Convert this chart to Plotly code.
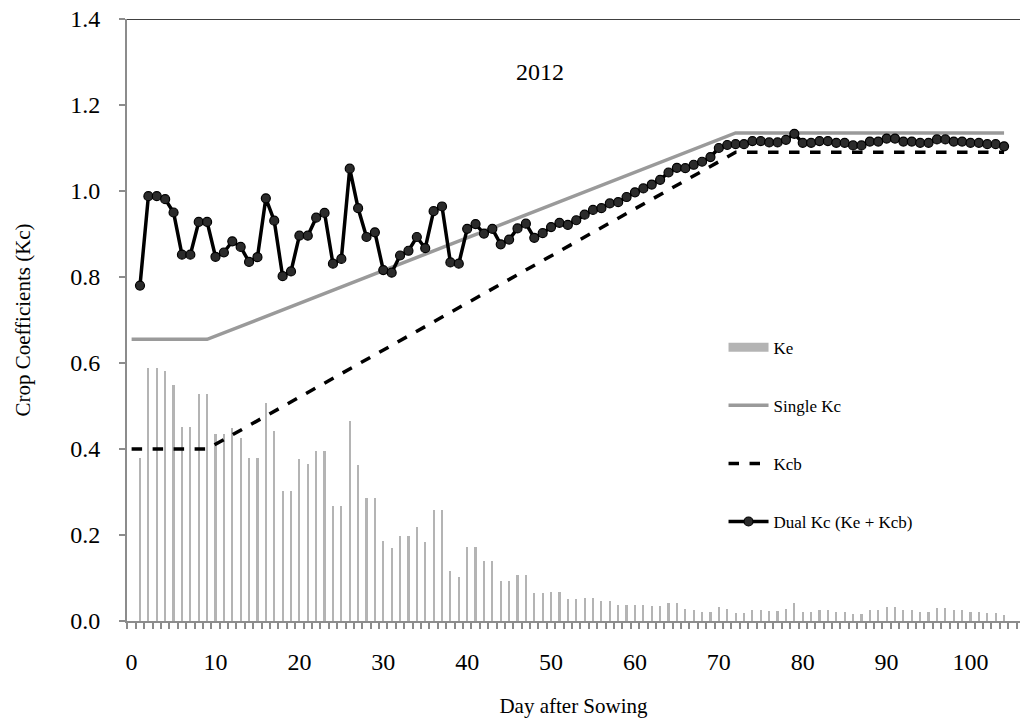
import plotly.graph_objects as go

# Day after sowing for the daily series
days = list(range(1, 105))

# Soil evaporation coefficient (Ke), daily
ke = [0.380, 0.588, 0.588, 0.581, 0.550, 0.452, 0.452, 0.528, 0.528, 0.436,
      0.435, 0.450, 0.426, 0.380, 0.380, 0.506, 0.443, 0.303, 0.303, 0.376,
      0.365, 0.396, 0.396, 0.267, 0.267, 0.466, 0.363, 0.285, 0.285, 0.186,
      0.169, 0.198, 0.198, 0.219, 0.183, 0.258, 0.258, 0.117, 0.103, 0.173,
      0.173, 0.140, 0.140, 0.093, 0.093, 0.108, 0.108, 0.064, 0.064, 0.067,
      0.067, 0.051, 0.051, 0.053, 0.053, 0.046, 0.046, 0.038, 0.038, 0.038,
      0.037, 0.035, 0.035, 0.041, 0.041, 0.029, 0.026, 0.022, 0.022, 0.032,
      0.028, 0.019, 0.019, 0.026, 0.026, 0.023, 0.023, 0.029, 0.043, 0.022,
      0.022, 0.026, 0.026, 0.022, 0.022, 0.016, 0.016, 0.025, 0.025, 0.032,
      0.032, 0.025, 0.025, 0.022, 0.022, 0.030, 0.030, 0.025, 0.025, 0.022,
      0.022, 0.019, 0.019, 0.014]

# Dual crop coefficient (Ke + Kcb), daily
dual_kc = [0.780, 0.988, 0.988, 0.981, 0.950, 0.852, 0.852, 0.928, 0.928, 0.847,
           0.857, 0.883, 0.870, 0.835, 0.846, 0.983, 0.931, 0.802, 0.813, 0.896,
           0.896, 0.938, 0.949, 0.831, 0.842, 1.052, 0.960, 0.893, 0.904, 0.816,
           0.810, 0.850, 0.861, 0.893, 0.867, 0.953, 0.964, 0.834, 0.831, 0.912,
           0.923, 0.901, 0.912, 0.876, 0.887, 0.913, 0.924, 0.891, 0.902, 0.916,
           0.926, 0.921, 0.932, 0.945, 0.956, 0.960, 0.971, 0.974, 0.986, 0.997,
           1.006, 1.015, 1.026, 1.043, 1.054, 1.053, 1.061, 1.068, 1.079, 1.100,
           1.107, 1.109, 1.109, 1.116, 1.116, 1.113, 1.113, 1.119, 1.133, 1.112,
           1.112, 1.116, 1.116, 1.112, 1.112, 1.106, 1.106, 1.115, 1.115, 1.122,
           1.122, 1.115, 1.115, 1.112, 1.112, 1.120, 1.120, 1.115, 1.115, 1.112,
           1.112, 1.109, 1.109, 1.104]

# Single Kc and basal Kcb stage curves (stage break days)
stage_days = [0, 9, 72, 104]
single_kc = [0.655, 0.655, 1.135, 1.135]
kcb = [0.40, 0.40, 1.09, 1.09]

x_tick_vals = [0, 10, 20, 30, 40, 50, 60, 70, 80, 90, 100]
y_tick_vals = [0.0, 0.2, 0.4, 0.6, 0.8, 1.0, 1.2, 1.4]

FONT = "Liberation Serif, Times New Roman, serif"
KE_GRAY = "#b4b4b4"
KC_GRAY = "#9a9a9a"
AXIS_GRAY = "#8c8c8c"

fig = go.Figure()

# Ke bars
fig.add_trace(go.Bar(
    x=days, y=ke, width=0.26, marker=dict(color=KE_GRAY, line=dict(width=0)),
    name="Ke", showlegend=False, legendgroup="ke"))
# Legend swatch for Ke drawn as a thick bar-like line
fig.add_trace(go.Scatter(
    x=[None], y=[None], mode="lines", line=dict(color=KE_GRAY, width=9),
    name="Ke", legendgroup="ke"))

fig.add_trace(go.Scatter(
    x=stage_days, y=single_kc, mode="lines", name="Single Kc",
    line=dict(color=KC_GRAY, width=3.5), legendgroup="single"))

fig.add_trace(go.Scatter(
    x=stage_days, y=kcb, mode="lines", name="Kcb",
    line=dict(color="black", width=3.5, dash="dash"), legendgroup="kcb"))

fig.add_trace(go.Scatter(
    x=days, y=dual_kc, mode="lines+markers", name="Dual Kc (Ke + Kcb)",
    line=dict(color="black", width=3.5),
    marker=dict(size=9, color="#2b2b2b", line=dict(color="black", width=1.2)),
    legendgroup="dual"))

# Black frame line along the top of the plot area
fig.add_shape(type="line", xref="paper", yref="y", x0=0, x1=1, y0=1.4, y1=1.4,
              line=dict(color="black", width=1.5))

fig.add_annotation(x=48.7, y=1.277, text="2012", showarrow=False,
                   font=dict(family=FONT, size=24, color="black"))

fig.update_layout(
    width=1020, height=727,
    margin=dict(l=127, r=0, t=19, b=106),
    paper_bgcolor="white", plot_bgcolor="white",
    font=dict(family=FONT, size=20, color="black"),
    bargap=0,
    legend=dict(x=0.668, y=0.484, xanchor="left", yanchor="top",
                font=dict(family=FONT, size=17, color="black"),
                tracegroupgap=33, traceorder="grouped",
                bgcolor="rgba(0,0,0,0)", itemwidth=40),
    xaxis=dict(
        range=[-0.55, 105.9], tickvals=x_tick_vals, ticks="", showgrid=False,
        zeroline=False, showline=True, linecolor=AXIS_GRAY, linewidth=2,
        tickfont=dict(family=FONT, size=24), ticklabelstandoff=18,
        minor=dict(tick0=0.5, dtick=1, ticks="outside", ticklen=6,
                   tickcolor=AXIS_GRAY, tickwidth=1.5, showgrid=False),
        title=dict(text="Day after Sowing", font=dict(family=FONT, size=21),
                   standoff=25)),
    yaxis=dict(
        range=[0, 1.4], tickvals=y_tick_vals, tickformat=".1f",
        ticks="outside", ticklen=6, tickcolor=AXIS_GRAY, tickwidth=1.5,
        showgrid=False, zeroline=False, showline=True, linecolor=AXIS_GRAY,
        linewidth=2, tickfont=dict(family=FONT, size=24), ticklabelstandoff=14,
        title=dict(text="Crop Coefficients (Kc)", font=dict(family=FONT, size=21),
                   standoff=34)),
)

fig.write_html("out.html")
